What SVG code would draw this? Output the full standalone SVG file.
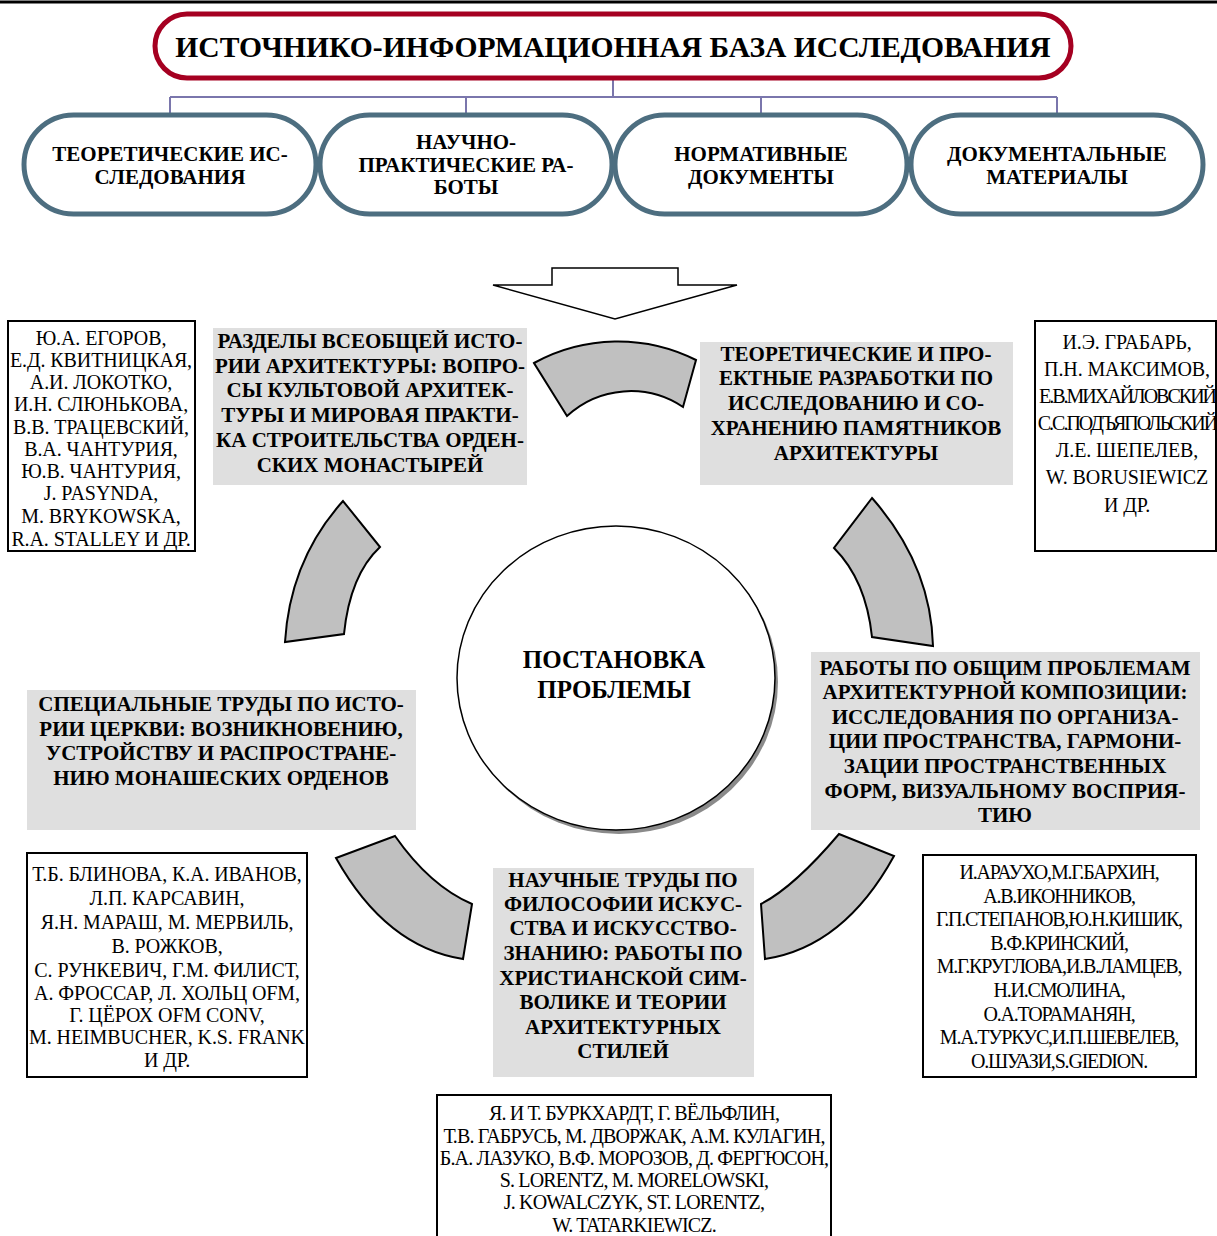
<svg xmlns="http://www.w3.org/2000/svg" width="1217" height="1236" viewBox="0 0 1217 1236">
<style>
.bt{font-family:"Liberation Serif","Times New Roman",serif;font-weight:bold;font-size:21px;text-anchor:middle;fill:#000}
.at{font-family:"Liberation Serif","Times New Roman",serif;font-size:20px;text-anchor:middle;fill:#000;letter-spacing:-0.1px}
.cd{letter-spacing:-1.2px}
.cb{letter-spacing:-0.85px}
.gray{fill:#DFDFDF}
.abox{fill:#fff;stroke:#000;stroke-width:2}
.seg{fill:#C0C0C0;stroke:#000;stroke-width:2;stroke-linejoin:miter}
.stad{fill:#fff;stroke:#4D6E80;stroke-width:5}
.conn{fill:none;stroke:#7A76AC;stroke-width:2}
</style>
<rect x="0" y="0" width="1217" height="1236" fill="#fff"/>
<line x1="0" y1="2" x2="1217" y2="2" stroke="#000" stroke-width="3"/>

<g id="connectors">
<path class="conn" d="M613,80 V97 M170,97 H1057 M170,97 V113 M466,97 V113 M761,97 V113 M1057,97 V113"/>
</g>

<g id="title">
<rect x="155" y="14" width="916" height="64" rx="32" fill="#fff" stroke="#A50021" stroke-width="5"/>
<text class="bt" x="613" y="57" style="font-size:29.6px">ИСТОЧНИКО-ИНФОРМАЦИОННАЯ БАЗА ИССЛЕДОВАНИЯ</text>
</g>

<g id="src1">
<rect class="stad" x="24" y="115" width="292" height="99" rx="49.5"/>
<text class="bt" x="170" y="161">ТЕОРЕТИЧЕСКИЕ ИС-</text>
<text class="bt" x="170" y="184">СЛЕДОВАНИЯ</text>
</g>
<g id="src2">
<rect class="stad" x="320" y="115" width="292" height="99" rx="49.5"/>
<text class="bt" x="466" y="149">НАУЧНО-</text>
<text class="bt" x="466" y="172">ПРАКТИЧЕСКИЕ РА-</text>
<text class="bt" x="466" y="194">БОТЫ</text>
</g>
<g id="src3">
<rect class="stad" x="615" y="115" width="292" height="99" rx="49.5"/>
<text class="bt" x="761" y="161">НОРМАТИВНЫЕ</text>
<text class="bt" x="761" y="184">ДОКУМЕНТЫ</text>
</g>
<g id="src4">
<rect class="stad" x="911" y="115" width="292" height="99" rx="49.5"/>
<text class="bt" x="1057" y="161">ДОКУМЕНТАЛЬНЫЕ</text>
<text class="bt" x="1057" y="184">МАТЕРИАЛЫ</text>
</g>

<g id="bigArrow">
<path d="M552,268 H678 V285 H737 L615,319 L493,285 H552 Z" fill="#fff" stroke="#000" stroke-width="1.5"/>
</g>

<g id="cycleArrows">
<path class="seg" d="M534,363 A174,174 0 0 1 696,360 L683,407 A94,94 0 0 0 567,416 Z"/>
<path class="seg" d="M872,498 L834,548 Q866,580 872,637 L933,646 Q931,565 872,498 Z"/>
<path class="seg" d="M839,834 L894,856 Q844,947 765,959 L761,904 Q794,887 839,834 Z"/>
<path class="seg" d="M336,858 L395,836 Q430,886 472,904 L463,959 Q386,947 336,858 Z"/>
<path class="seg" d="M285,642 Q290,560 343,501 L380,547 Q350,575 344,634 Z"/>
</g>

<g id="center">
<ellipse cx="619" cy="682" rx="159" ry="152" fill="#8A8A8A"/>
<ellipse cx="616" cy="678" rx="159" ry="152" fill="#fff" stroke="#000" stroke-width="1.5"/>
<text class="bt" x="614" y="668" style="font-size:25px">ПОСТАНОВКА</text>
<text class="bt" x="614" y="698" style="font-size:25px">ПРОБЛЕМЫ</text>
</g>

<g id="topLeftTopic">
<rect class="gray" x="213" y="328" width="314" height="157"/>
<text class="bt" x="370" y="348">РАЗДЕЛЫ ВСЕОБЩЕЙ ИСТО-</text>
<text class="bt" x="370" y="373">РИИ АРХИТЕКТУРЫ: ВОПРО-</text>
<text class="bt" x="370" y="397">СЫ КУЛЬТОВОЙ АРХИТЕК-</text>
<text class="bt" x="370" y="422">ТУРЫ И МИРОВАЯ ПРАКТИ-</text>
<text class="bt" x="370" y="447">КА СТРОИТЕЛЬСТВА ОРДЕН-</text>
<text class="bt" x="370" y="472">СКИХ МОНАСТЫРЕЙ</text>
</g>

<g id="topRightTopic">
<rect class="gray" x="700" y="342" width="313" height="143"/>
<text class="bt" x="856" y="361">ТЕОРЕТИЧЕСКИЕ И ПРО-</text>
<text class="bt" x="856" y="385">ЕКТНЫЕ РАЗРАБОТКИ ПО</text>
<text class="bt" x="856" y="410">ИССЛЕДОВАНИЮ И СО-</text>
<text class="bt" x="856" y="435">ХРАНЕНИЮ ПАМЯТНИКОВ</text>
<text class="bt" x="856" y="460">АРХИТЕКТУРЫ</text>
</g>

<g id="rightTopic">
<rect class="gray" x="811" y="652" width="389" height="178"/>
<text class="bt" x="1005" y="675">РАБОТЫ ПО ОБЩИМ ПРОБЛЕМАМ</text>
<text class="bt" x="1005" y="699">АРХИТЕКТУРНОЙ КОМПОЗИЦИИ:</text>
<text class="bt" x="1005" y="724">ИССЛЕДОВАНИЯ ПО ОРГАНИЗА-</text>
<text class="bt" x="1005" y="748">ЦИИ ПРОСТРАНСТВА, ГАРМОНИ-</text>
<text class="bt" x="1005" y="773">ЗАЦИИ ПРОСТРАНСТВЕННЫХ</text>
<text class="bt" x="1005" y="798">ФОРМ, ВИЗУАЛЬНОМУ ВОСПРИЯ-</text>
<text class="bt" x="1005" y="822">ТИЮ</text>
</g>

<g id="bottomTopic">
<rect class="gray" x="493" y="868" width="261" height="209"/>
<text class="bt" x="623" y="887">НАУЧНЫЕ ТРУДЫ ПО</text>
<text class="bt" x="623" y="911">ФИЛОСОФИИ ИСКУС-</text>
<text class="bt" x="623" y="935">СТВА И ИСКУССТВО-</text>
<text class="bt" x="623" y="960">ЗНАНИЮ: РАБОТЫ ПО</text>
<text class="bt" x="623" y="985">ХРИСТИАНСКОЙ СИМ-</text>
<text class="bt" x="623" y="1009">ВОЛИКЕ И ТЕОРИИ</text>
<text class="bt" x="623" y="1034">АРХИТЕКТУРНЫХ</text>
<text class="bt" x="623" y="1058">СТИЛЕЙ</text>
</g>

<g id="leftTopic">
<rect class="gray" x="27" y="690" width="389" height="140"/>
<text class="bt" x="221" y="711">СПЕЦИАЛЬНЫЕ ТРУДЫ ПО ИСТО-</text>
<text class="bt" x="221" y="736">РИИ ЦЕРКВИ: ВОЗНИКНОВЕНИЮ,</text>
<text class="bt" x="221" y="760">УСТРОЙСТВУ И РАСПРОСТРАНЕ-</text>
<text class="bt" x="221" y="785">НИЮ МОНАШЕСКИХ ОРДЕНОВ</text>
</g>

<g id="authorsTopLeft">
<rect class="abox" x="8" y="321" width="187" height="230"/>
<text class="at" x="101" y="345">Ю.А. ЕГОРОВ,</text>
<text class="at" x="101" y="367">Е.Д. КВИТНИЦКАЯ,</text>
<text class="at" x="101" y="389">А.И. ЛОКОТКО,</text>
<text class="at" x="101" y="411">И.Н. СЛЮНЬКОВА,</text>
<text class="at" x="101" y="434">В.В. ТРАЦЕВСКИЙ,</text>
<text class="at" x="101" y="456">В.А. ЧАНТУРИЯ,</text>
<text class="at" x="101" y="478">Ю.В. ЧАНТУРИЯ,</text>
<text class="at" x="101" y="500">J. PASYNDA,</text>
<text class="at" x="101" y="523">M. BRYKOWSKA,</text>
<text class="at" x="101" y="546">R.A. STALLEY И ДР.</text>
</g>

<g id="authorsTopRight">
<rect class="abox" x="1035" y="321" width="181" height="230"/>
<text class="at" x="1127" y="349">И.Э. ГРАБАРЬ,</text>
<text class="at" x="1127" y="376">П.Н. МАКСИМОВ,</text>
<text class="at" x="1127" y="403" style="letter-spacing:-2px">Е.В.МИХАЙЛОВСКИЙ</text>
<text class="at" x="1127" y="430" style="letter-spacing:-2px">С.С.ПОДЪЯПОЛЬСКИЙ</text>
<text class="at" x="1127" y="457">Л.Е. ШЕПЕЛЕВ,</text>
<text class="at" x="1127" y="484">W. BORUSIEWICZ</text>
<text class="at" x="1127" y="512">И ДР.</text>
</g>

<g id="authorsLeft">
<rect class="abox" x="27" y="853" width="280" height="224"/>
<text class="at" x="167" y="881">Т.Б. БЛИНОВА, К.А. ИВАНОВ,</text>
<text class="at" x="167" y="905">Л.П. КАРСАВИН,</text>
<text class="at" x="167" y="929">Я.Н. МАРАШ, М. МЕРВИЛЬ,</text>
<text class="at" x="167" y="953">В. РОЖКОВ,</text>
<text class="at" x="167" y="977">С. РУНКЕВИЧ, Г.М. ФИЛИСТ,</text>
<text class="at" x="167" y="1000">А. ФРОССАР, Л. ХОЛЬЦ OFM,</text>
<text class="at" x="167" y="1022">Г. ЦЁРОХ OFM CONV,</text>
<text class="at" x="167" y="1044">M. HEIMBUCHER, K.S. FRANK</text>
<text class="at" x="167" y="1067">И ДР.</text>
</g>

<g id="authorsRight">
<rect class="abox" x="923" y="855" width="273" height="222"/>
<text class="at cd" x="1059" y="879">И.АРАУХО,М.Г.БАРХИН,</text>
<text class="at cd" x="1059" y="903">А.В.ИКОННИКОВ,</text>
<text class="at cd" x="1059" y="926">Г.П.СТЕПАНОВ,Ю.Н.КИШИК,</text>
<text class="at cd" x="1059" y="950">В.Ф.КРИНСКИЙ,</text>
<text class="at cd" x="1059" y="973">М.Г.КРУГЛОВА,И.В.ЛАМЦЕВ,</text>
<text class="at cd" x="1059" y="997">Н.И.СМОЛИНА,</text>
<text class="at cd" x="1059" y="1021">О.А.ТОРАМАНЯН,</text>
<text class="at cd" x="1059" y="1044">М.А.ТУРКУС,И.П.ШЕВЕЛЕВ,</text>
<text class="at cd" x="1059" y="1068">О.ШУАЗИ,S.GIEDION.</text>
</g>

<g id="authorsBottom">
<rect class="abox" x="437" y="1095" width="394" height="145"/>
<text class="at cb" x="634" y="1120">Я. И Т. БУРКХАРДТ, Г. ВЁЛЬФЛИН,</text>
<text class="at cb" x="634" y="1143">Т.В. ГАБРУСЬ, М. ДВОРЖАК, А.М. КУЛАГИН,</text>
<text class="at cb" x="634" y="1165">Б.А. ЛАЗУКО, В.Ф. МОРОЗОВ, Д. ФЕРГЮСОН,</text>
<text class="at cb" x="634" y="1187">S. LORENTZ, M. MORELOWSKI,</text>
<text class="at cb" x="634" y="1209">J. KOWALCZYK, ST. LORENTZ,</text>
<text class="at cb" x="634" y="1232">W. TATARKIEWICZ.</text>
</g>
</svg>
